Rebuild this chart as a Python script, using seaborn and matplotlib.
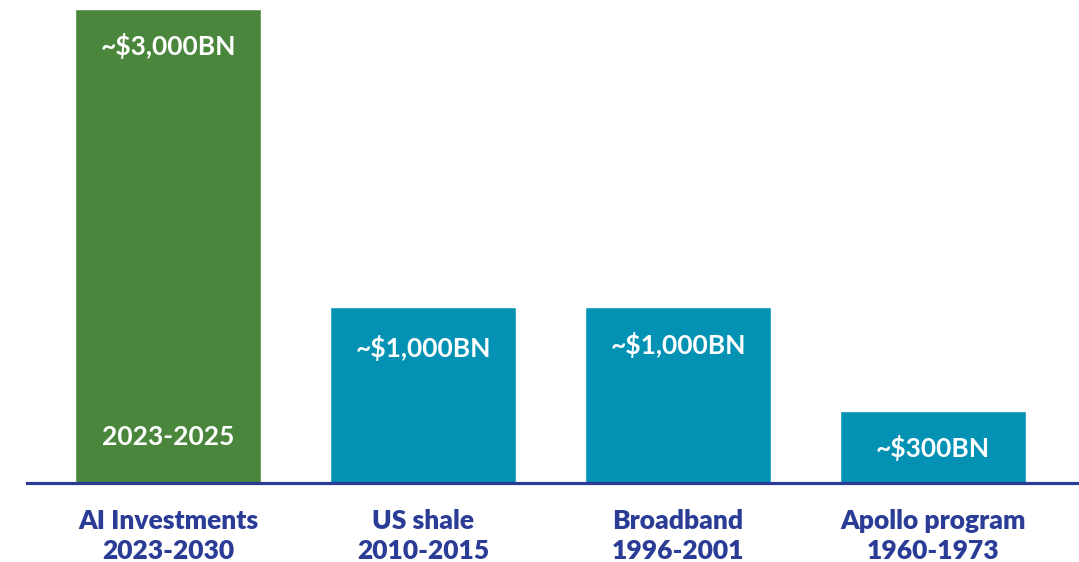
import matplotlib
matplotlib.use("Agg")
import matplotlib.pyplot as plt
import seaborn as sns

# Data (bars are not drawn to scale in the original,
# so heights are the drawn heights, labels carry the real figures)
categories = ["AI Investments\n2023-2030", "US shale\n2010-2015",
              "Broadband\n1996-2001", "Apollo program\n1960-1973"]
bar_heights = [474, 176, 176, 72]
value_labels = ["~$3,000BN", "~$1,000BN", "~$1,000BN", "~$300BN"]
label_heights = [437, 135, 138, 35]
sub_label = "2023-2025"
sub_label_height = 46

GREEN = "#4a873c"
TEAL = "#0392b4"
NAVY = "#2b3c96"
bar_colors = [GREEN, TEAL, TEAL, TEAL]

sns.set_style("white")
plt.rcParams["font.family"] = ["Lato", "DejaVu Sans"]

fig = plt.figure(figsize=(10.79, 5.62), dpi=100)
ax = fig.add_axes([27 / 1079, 79 / 562, 1052 / 1079, 474 / 562])

sns.barplot(x=categories, y=bar_heights, hue=categories, palette=bar_colors,
            width=0.73, legend=False, saturation=1, ax=ax)

# Value labels inside the bars
for i, (txt, h) in enumerate(zip(value_labels, label_heights)):
    ax.text(i, h, txt, ha="center", va="center", color="white",
            fontsize=19, fontweight="bold")
ax.text(0, sub_label_height, sub_label, ha="center", va="center", color="white",
        fontsize=19, fontweight="bold")

ax.set_xlim(-0.553, 3.573)
ax.set_ylim(0, 474)
ax.set_yticks([])
ax.set_xlabel("")
ax.set_ylabel("")
for s in ["top", "right", "left"]:
    ax.spines[s].set_visible(False)
ax.spines["bottom"].set_color(NAVY)
ax.spines["bottom"].set_linewidth(2.3)
ax.tick_params(axis="x", length=0, pad=18.5, labelsize=19, labelcolor=NAVY)
for lbl in ax.get_xticklabels():
    lbl.set_fontweight(800)
    lbl.set_linespacing(1.3)

fig.savefig("out.png", dpi=100)
